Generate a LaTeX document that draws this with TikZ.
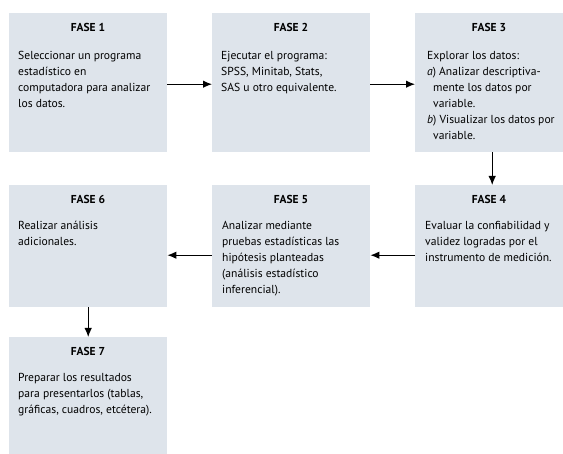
\documentclass[tikz,border=0pt]{standalone}
\usepackage{fontspec}
\setmainfont{PT Sans}
\usetikzlibrary{arrows.meta}
\definecolor{boxfill}{HTML}{DEE4EB}
\begin{document}
\begin{tikzpicture}[x=1pt,y=-1pt,
  fase/.style={fill=boxfill, draw=none, minimum width=158pt, inner sep=0pt, anchor=north west},
  ttl/.style={font=\bfseries\fontsize{11.5}{13}\selectfont, anchor=base, inner sep=0pt},
  body/.style={font=\fontsize{11.6}{16}\selectfont, anchor=north west, align=left, inner sep=0pt},
  arr/.style={-{Latex[length=9pt,width=7.5pt]}, line width=1.1pt}]
\useasboundingbox (0,0) rectangle (563,454);
% boxes
\node[fase, minimum height=139pt] (f1) at (9,13) {};
\node[fase, minimum height=139pt] (f2) at (212,13) {};
\node[fase, minimum height=139pt, minimum width=148pt] (f3) at (415,13) {};
\node[fase, minimum height=122pt, minimum width=148pt] (f4) at (415,185) {};
\node[fase, minimum height=122pt] (f5) at (212,185) {};
\node[fase, minimum height=122pt] (f6) at (9,185) {};
\node[fase, minimum height=117pt] (f7) at (9,337) {};
% titles
\node[ttl] (t1) at (88,32) {FASE 1};
\node[ttl] (t2) at (291,32) {FASE 2};
\node[ttl] (t3) at (489,32) {FASE 3};
\node[ttl] (t4) at (489,204) {FASE 4};
\node[ttl] (t5) at (291,204) {FASE 5};
\node[ttl] (t6) at (88,204) {FASE 6};
\node[ttl] (t7) at (88,356) {FASE 7};
% bodies
\node[body] (b1) at (18,48) {\strut Seleccionar un programa\\estadístico en\\computadora para analizar\\los datos.};
\node[body] (b2) at (221,48) {\strut Ejecutar el programa:\\SPSS, Minitab, Stats,\\SAS u otro equivalente.};
\node[body] (b3) at (427,48) {\strut Explorar los datos:\\\textit{a}) Analizar descriptiva-\\\hspace*{6pt}mente los datos por\\\hspace*{6pt}variable.\\\textit{b}) Visualizar los datos por\\\hspace*{6pt}variable.};
\node[body] (b4) at (425,218) {\strut Evaluar la confiabilidad y\\validez logradas por el\\instrumento de medición.};
\node[body] (b5) at (222,218) {\strut Analizar mediante\\pruebas estadísticas las\\hipótesis planteadas\\(análisis estadístico\\inferencial).};
\node[body] (b6) at (18,218) {\strut Realizar análisis\\adicionales.};
\node[body] (b7) at (18,370) {\strut Preparar los resultados\\para presentarlos (tablas,\\gráficas, cuadros, etcétera).};
% connectors
\draw[arr] ([yshift=-1.5pt]f1.east) -- ([yshift=-1.5pt]f2.west);
\draw[arr] ([yshift=-1.5pt]f2.east) -- ([yshift=-1.5pt]f3.west);
\draw[arr] ([xshift=3pt]f3.south) -- ([xshift=3pt]f4.north);
\draw[arr] ([yshift=-9pt]f4.west) -- ([yshift=-9pt]f5.east);
\draw[arr] ([yshift=-9pt]f5.west) -- ([yshift=-9pt]f6.east);
\draw[arr] (f6.south) -- (f7.north);
\end{tikzpicture}
\end{document}
